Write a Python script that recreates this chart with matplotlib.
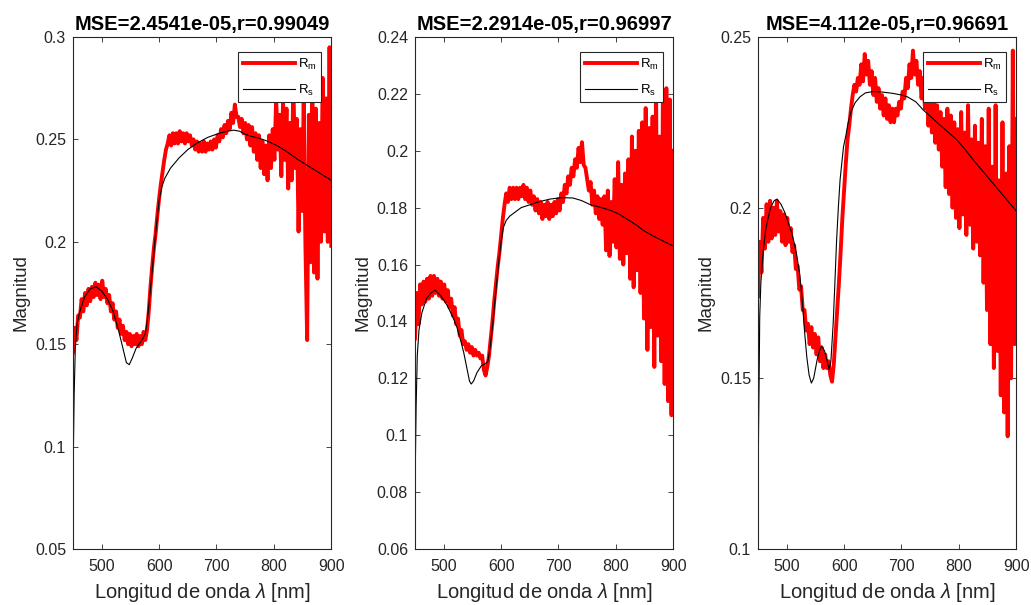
import numpy as np
import matplotlib.pyplot as plt
from matplotlib.ticker import FormatStrFormatter, MultipleLocator

plt.rcParams['font.family'] = ['Liberation Sans', 'DejaVu Sans']
plt.rcParams['mathtext.fontset'] = 'custom'
plt.rcParams['mathtext.rm'] = 'Liberation Sans'
plt.rcParams['mathtext.it'] = 'Liberation Sans:italic'

# measured spectra (R_m), sampled every 3 nm
wl = np.arange(450, 901, 3)

rm1 = [0.146, 0.158, 0.152, 0.164, 0.163, 0.172, 0.166, 0.175, 0.169, 0.177,
       0.171, 0.178, 0.173, 0.180, 0.174, 0.179, 0.172, 0.181, 0.173, 0.177,
       0.170, 0.174, 0.166, 0.170, 0.162, 0.166, 0.158, 0.162, 0.155, 0.159,
       0.152, 0.156, 0.150, 0.155, 0.149, 0.154, 0.150, 0.155, 0.149, 0.154,
       0.150, 0.156, 0.152, 0.157, 0.166, 0.178, 0.188, 0.197, 0.204, 0.213,
       0.221, 0.228, 0.234, 0.240, 0.245, 0.248, 0.252, 0.247, 0.253, 0.248,
       0.253, 0.248, 0.254, 0.249, 0.253, 0.248, 0.253, 0.249, 0.252, 0.247,
       0.250, 0.245, 0.249, 0.244, 0.248, 0.244, 0.249, 0.244, 0.248, 0.245,
       0.249, 0.245, 0.250, 0.246, 0.252, 0.249, 0.255, 0.251, 0.257, 0.253,
       0.259, 0.255, 0.263, 0.258, 0.267, 0.261, 0.261, 0.256, 0.260, 0.253,
       0.258, 0.250, 0.257, 0.247, 0.256, 0.244, 0.253, 0.240, 0.252, 0.236,
       0.249, 0.233, 0.247, 0.230, 0.252, 0.236, 0.255, 0.240, 0.270, 0.245,
       0.262, 0.232, 0.268, 0.240, 0.265, 0.226, 0.258, 0.230, 0.276, 0.236,
       0.260, 0.205, 0.255, 0.215, 0.268, 0.198, 0.152, 0.262, 0.190, 0.275,
       0.185, 0.265, 0.182, 0.258, 0.200, 0.280, 0.205, 0.270, 0.200, 0.295,
       0.198]

rm2 = [0.134, 0.150, 0.139, 0.153, 0.146, 0.154, 0.147, 0.155, 0.148, 0.156,
       0.149, 0.156, 0.150, 0.155, 0.149, 0.154, 0.148, 0.153, 0.147, 0.151,
       0.145, 0.148, 0.142, 0.145, 0.139, 0.141, 0.135, 0.137, 0.132, 0.133,
       0.130, 0.132, 0.129, 0.131, 0.128, 0.130, 0.128, 0.129, 0.127, 0.128,
       0.123, 0.121, 0.124, 0.128, 0.134, 0.140, 0.147, 0.153, 0.159, 0.164,
       0.170, 0.176, 0.181, 0.185, 0.182, 0.187, 0.183, 0.187, 0.183, 0.187,
       0.183, 0.187, 0.184, 0.188, 0.183, 0.187, 0.182, 0.186, 0.181, 0.184,
       0.179, 0.183, 0.178, 0.182, 0.176, 0.181, 0.177, 0.182, 0.176, 0.181,
       0.177, 0.182, 0.178, 0.183, 0.179, 0.185, 0.182, 0.188, 0.185, 0.191,
       0.188, 0.194, 0.191, 0.197, 0.194, 0.201, 0.196, 0.203, 0.195, 0.194,
       0.190, 0.186, 0.189, 0.181, 0.186, 0.178, 0.184, 0.176, 0.183, 0.174,
       0.184, 0.165, 0.186, 0.163, 0.182, 0.168, 0.190, 0.166, 0.196, 0.162,
       0.188, 0.160, 0.192, 0.164, 0.197, 0.155, 0.205, 0.152, 0.200, 0.158,
       0.207, 0.150, 0.210, 0.141, 0.215, 0.130, 0.208, 0.138, 0.212, 0.124,
       0.223, 0.135, 0.205, 0.126, 0.220, 0.118, 0.222, 0.112, 0.218, 0.107,
       0.200]

rm3 = [0.174, 0.190, 0.181, 0.197, 0.188, 0.201, 0.190, 0.202, 0.191, 0.200,
       0.192, 0.202, 0.193, 0.199, 0.190, 0.198, 0.189, 0.197, 0.190, 0.194,
       0.187, 0.189, 0.182, 0.183, 0.176, 0.177, 0.170, 0.170, 0.164, 0.166,
       0.160, 0.165, 0.159, 0.163, 0.157, 0.162, 0.155, 0.159, 0.153, 0.157,
       0.153, 0.155, 0.151, 0.149, 0.154, 0.162, 0.170, 0.178, 0.187, 0.197,
       0.205, 0.213, 0.220, 0.224, 0.229, 0.233, 0.236, 0.234, 0.238, 0.236,
       0.242, 0.237, 0.245, 0.239, 0.243, 0.236, 0.240, 0.233, 0.238, 0.231,
       0.235, 0.229, 0.233, 0.227, 0.232, 0.226, 0.230, 0.225, 0.229, 0.225,
       0.229, 0.227, 0.231, 0.229, 0.234, 0.232, 0.238, 0.235, 0.242, 0.238,
       0.246, 0.239, 0.243, 0.236, 0.240, 0.232, 0.238, 0.229, 0.236, 0.224,
       0.234, 0.222, 0.232, 0.219, 0.230, 0.217, 0.228, 0.212, 0.226, 0.206,
       0.229, 0.204, 0.227, 0.200, 0.225, 0.197, 0.223, 0.194, 0.228, 0.198,
       0.222, 0.192, 0.230, 0.195, 0.220, 0.188, 0.224, 0.190, 0.219, 0.186,
       0.226, 0.178, 0.218, 0.170, 0.229, 0.160, 0.212, 0.153, 0.230, 0.158,
       0.208, 0.145, 0.225, 0.140, 0.210, 0.133, 0.218, 0.150, 0.246, 0.160,
       0.226]

# simulated spectra (R_s)
xs1 = [450, 452, 454, 457, 462, 470, 480, 490, 500, 510, 520, 530, 537, 543,
       548, 553, 560, 570, 576, 580, 585, 590, 595, 600, 605, 610, 620, 635,
       650, 665, 685, 705, 720, 730, 740, 750, 760, 775, 790, 805, 820, 840,
       860, 880, 900]
rs1 = [0.083, 0.125, 0.148, 0.160, 0.166, 0.173, 0.177, 0.178, 0.176, 0.172,
       0.166, 0.156, 0.148, 0.141, 0.140, 0.143, 0.148, 0.152, 0.155, 0.163,
       0.177, 0.192, 0.207, 0.220, 0.227, 0.231, 0.236, 0.241, 0.245, 0.248,
       0.251, 0.253, 0.254, 0.2545, 0.254, 0.2525, 0.2515, 0.2505, 0.249,
       0.247, 0.2445, 0.2405, 0.237, 0.2335, 0.230]

xs2 = [450, 452, 454, 457, 462, 470, 478, 485, 495, 505, 515, 523, 530, 535,
       540, 545, 548, 552, 558, 566, 572, 577, 581, 586, 591, 596, 600, 604,
       609, 615, 625, 635, 650, 665, 685, 705, 725, 740, 756, 775, 791, 805,
       819, 835, 848, 865, 880, 900]
rs2 = [0.080, 0.110, 0.128, 0.137, 0.143, 0.148, 0.150, 0.151, 0.149, 0.146,
       0.142, 0.138, 0.133, 0.129, 0.124, 0.119, 0.118, 0.119, 0.122, 0.1245,
       0.125, 0.126, 0.131, 0.140, 0.151, 0.161, 0.168, 0.173, 0.1755, 0.177,
       0.1785, 0.180, 0.181, 0.182, 0.183, 0.1835, 0.1834, 0.1825, 0.181,
       0.180, 0.179, 0.1778, 0.176, 0.174, 0.172, 0.170, 0.1685, 0.1665]

xs3 = [450, 451, 452, 453, 455, 459, 463, 467, 472, 478, 483, 490, 497, 503,
       509, 514, 518, 523, 527, 531, 535, 539, 543, 547, 553, 557, 561, 566,
       570, 574, 577, 581, 584, 587, 590, 593, 596, 599, 603, 607, 612, 619,
       628, 637, 650, 665, 684, 700, 710, 725, 738, 752, 767, 782, 797, 811,
       825, 840, 855, 872, 885, 900]
rs3 = [0.113, 0.135, 0.150, 0.168, 0.178, 0.187, 0.193, 0.1965, 0.200, 0.202,
       0.2025, 0.201, 0.1985, 0.1955, 0.1925, 0.189, 0.1856, 0.180, 0.173,
       0.164, 0.1563, 0.151, 0.1486, 0.150, 0.1554, 0.158, 0.1595, 0.158,
       0.1554, 0.1525, 0.155, 0.166, 0.178, 0.1906, 0.200, 0.2081, 0.213,
       0.2178, 0.221, 0.2248, 0.228, 0.2307, 0.2325, 0.2336, 0.234, 0.2339,
       0.2335, 0.233, 0.2325, 0.231, 0.2286, 0.2265, 0.2242, 0.222, 0.2198,
       0.217, 0.214, 0.211, 0.208, 0.2046, 0.202, 0.199]

titles = ["MSE=2.4541e-05,r=0.99049", "MSE=2.2914e-05,r=0.96997",
          "MSE=4.112e-05,r=0.96691"]
ylims = [(0.05, 0.3), (0.06, 0.24), (0.1, 0.25)]
ysteps = [0.05, 0.02, 0.05]

measured = [rm1, rm2, rm3]
simulated = [(xs1, rs1), (xs2, rs2), (xs3, rs3)]

gray = '#262626'
fig = plt.figure(figsize=(10.31, 6.05), dpi=100)
lefts = [0.0708, 0.4025, 0.7352]

for i in range(3):
    ax = fig.add_axes([lefts[i], 0.0926, 0.2505, 0.8463])
    ax.plot(wl, measured[i], color='red', lw=2.8, label=r'$\mathregular{R_m}$')
    ax.plot(simulated[i][0], simulated[i][1], color='black', lw=0.8,
            label=r'$\mathregular{R_s}$')
    ax.set_xlim(450, 900)
    ax.set_ylim(*ylims[i])
    ax.xaxis.set_major_locator(MultipleLocator(100))
    ax.yaxis.set_major_locator(MultipleLocator(ysteps[i]))
    ax.yaxis.set_major_formatter(FormatStrFormatter('%g'))
    ax.tick_params(direction='in', length=3.5, width=0.6, top=True, right=True,
                   colors=gray, labelsize=11.5)
    ax.tick_params(axis='x', pad=7)
    ax.tick_params(axis='y', pad=5)
    for s in ax.spines.values():
        s.set_color(gray)
        s.set_linewidth(0.8)
    ax.set_title(titles[i], fontsize=14.5, fontweight='bold', pad=5)
    ax.set_xlabel(r'Longitud de onda $\lambda$ [nm]', fontsize=14.5,
                  color=gray, labelpad=5)
    ax.set_ylabel('Magnitud', fontsize=13.5, color=gray)
    leg = ax.legend(loc='upper right', bbox_to_anchor=(0.962, 0.971),
                    borderaxespad=0, fontsize=9.5, handlelength=4.0,
                    handletextpad=0.2, labelspacing=0.85, borderpad=0.35,
                    fancybox=False, framealpha=1, edgecolor=gray)
    leg.get_frame().set_linewidth(0.8)

plt.savefig('out.png', dpi=100)
plt.close()
